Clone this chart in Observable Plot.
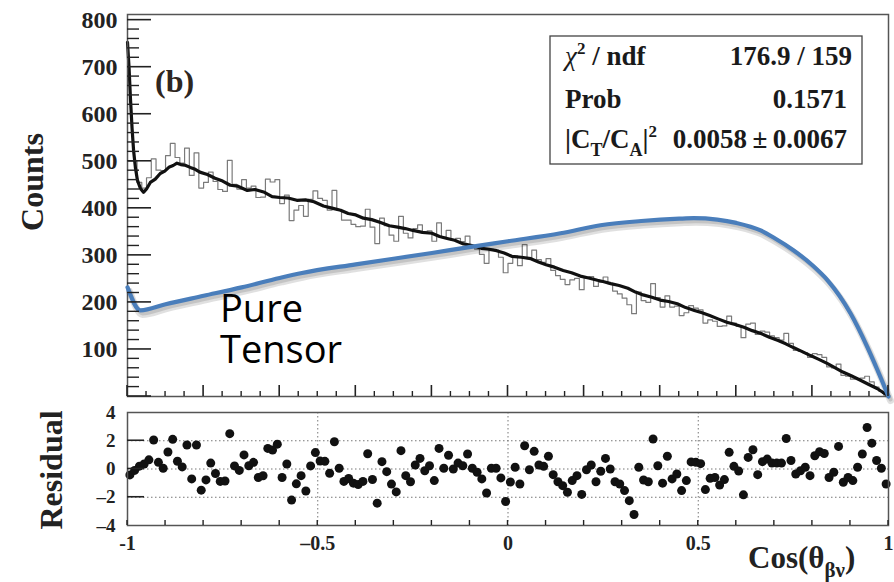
<!DOCTYPE html>
<html><head><meta charset="utf-8">
<script src="https://cdn.jsdelivr.net/npm/d3@7"></script>
<script src="https://cdn.jsdelivr.net/npm/@observablehq/plot@0.6"></script>
<style>
html,body{margin:0;padding:0;background:#fff;}
#wrap{position:relative;width:894px;height:582px;overflow:hidden;background:#fff;}
#wrap svg{position:absolute;left:0;overflow:visible;}
</style></head><body><div id="wrap"></div>
<script>
// ---- data ----
const residuals = [
 -0.42,-0.1,0.2,0.35,0.65,2.05,0.47,0.05,1.2,2.1,0.55,0.15,1.7,-0.7,1.7,-1.5,-0.77,0.42,-0.32,-0.88,
 -0.85,2.5,0.22,-0.1,1.0,0.23,0.47,-0.6,-0.48,1.46,1.34,1.76,-0.6,0.35,-2.2,-1.05,-0.47,-1.56,0.22,1.16,
 0.57,0.54,-0.3,1.93,0.05,-0.88,-0.67,-1.0,-1.1,-0.88,1.08,-0.74,-2.42,0.52,-0.19,-1.07,-1.62,1.3,-0.47,-0.9,
 0.28,0.75,-0.12,0.23,-0.82,1.46,0.05,0.97,0.0,0.42,0.23,1.06,0.05,-0.23,-0.7,-1.7,0.05,0.05,-0.63,-2.3,
 -0.92,0.12,-1.06,1.65,-0.05,1.25,0.28,0.19,0.9,-0.4,-0.9,-1.18,-1.65,-0.82,-0.47,-1.8,-0.05,0.28,-0.9,-0.16,
 0.75,0.0,-0.9,-1.06,-1.53,-2.24,-3.22,0.12,-0.78,-0.9,2.12,0.23,-1.0,0.9,-0.7,-0.35,-1.53,-0.82,0.5,0.47,
 0.38,-1.46,-0.66,-0.6,-1.13,-0.75,1.18,0.19,-0.14,-1.83,0.82,1.36,-0.4,0.52,0.7,0.42,0.42,0.42,2.16,0.6,
 -0.35,-0.12,0.12,-0.47,0.94,1.22,1.1,-0.6,-0.23,1.6,-0.94,-0.6,-0.82,0.12,1.06,2.94,1.83,0.6,0.05,-1.06
];
const counts = [
 500,500,455,443,465,505,481,480,512,538,508,496,528,470,518,443,455,477,457,440,
 436,502,451,441,461,443,447,423,424,462,456,461,410,428,374,396,406,383,419,437,
 421,417,396,438,396,375,375,366,361,362,398,360,325,379,363,343,330,383,347,337,
 357,365,347,352,330,369,339,353,332,336,329,341,321,313,302,283,313,311,296,263,
 283,299,278,323,293,311,291,285,293,268,257,249,238,248,251,227,252,255,234,243,
 254,240,224,218,209,195,176,222,204,200,240,210,190,214,190,192,172,178,193,188,
 184,156,163,160,149,150,171,156,149,125,154,156,132,139,137,129,125,120,134,113,
 98,96,93,83,91,89,83,63,61,69,45,43,37,38,39,43,31,20,11,3
];
const fitCurve = [
 [-1.0,753],[-0.996,700],[-0.992,630],[-0.988,570],[-0.984,523],[-0.979,485],[-0.974,460],[-0.966,442],
 [-0.958,434],[-0.95,441],[-0.94,455],[-0.927,462],[-0.914,474],[-0.902,479],[-0.89,488],[-0.88,491],
 [-0.87,496],[-0.86,493],[-0.85,492],[-0.835,487],[-0.822,483],[-0.81,477],[-0.79,472],[-0.77,464],
 [-0.75,458],[-0.73,449],[-0.71,447],[-0.685,438],[-0.665,440],[-0.64,434],[-0.62,425],[-0.6,423],
 [-0.578,422],[-0.555,417],[-0.532,418],[-0.51,414],[-0.485,405],[-0.46,400],[-0.44,396],[-0.42,389],
 [-0.4,386],[-0.38,379],[-0.358,376],[-0.335,370],[-0.312,363],[-0.29,360],[-0.27,357],[-0.25,353],
 [-0.225,349],[-0.2,347],[-0.18,340],[-0.16,336],[-0.14,332],[-0.12,325],[-0.095,321],[-0.07,315],
 [-0.05,313],[-0.03,310],[-0.01,305],[0.01,298],[0.035,296],[0.06,293],[0.08,286],[0.1,280],
 [0.122,275],[0.145,268],[0.167,263],[0.19,256],[0.212,252],[0.235,247],[0.252,244],[0.27,240],
 [0.292,236],[0.315,230],[0.335,222],[0.355,216],[0.378,211],[0.4,205],[0.422,202],[0.445,197],
 [0.467,189],[0.49,183],[0.51,178],[0.53,172],[0.552,165],[0.575,158],[0.597,153],[0.62,147],
 [0.642,140],[0.665,134],[0.687,126],[0.71,119],[0.73,112],[0.75,104],[0.772,96],[0.795,87],
 [0.817,79],[0.84,70],[0.86,61],[0.88,52],[0.902,44],[0.925,35],[0.947,26],[0.97,17],[0.985,9],[1.0,2]
];
const tensorCurve = [
 [-1,232],[-0.966,183],[-0.9,196],[-0.8,214],[-0.7,232],[-0.6,252],[-0.545,262],[-0.4,281],
 [-0.2,305],[-0.106,317],[0,330],[0.138,347],[0.243,364],[0.35,373],[0.45,378],[0.488,379],
 [0.55,376],[0.6,369],[0.664,353],[0.7,337],[0.75,311],[0.8,279],[0.84,247],[0.9,177],
 [0.945,104],[0.97,58],[1.0,0]
];
const countTicks = [100,200,300,400,500,600,700,800];
const countTickLabels = ["100","200","300","400","500","600","700","800"];
const resTicks = [4,2,0,-2,-4];
const resTickLabels = ["4","2","0","\u20132","\u20134"];
const xTicks = [-1,-0.5,0,0.5,1];
const xTickLabels = ["-1","\u20130.5","0","0.5","1"];

// ---- derived structures ----
const nBins = counts.length, binW = 2 / nBins;
const hist = counts.map((c, i) => ({x: -1 + i * binW, y: c}));
hist.push({x: 1, y: counts[nBins - 1]});
const resData = residuals.map((r, i) => ({x: -1 + (i + 0.5) * binW, r}));
const rng = (a, b, s) => d3.range(Math.round(a / s), Math.round(b / s) + 1).map(k => +(k * s).toFixed(4));
const majorY = rng(0, 800, 100);
const minorY = rng(0, 800, 20).filter(v => !majorY.includes(v));
const majorX = rng(-1, 1, 0.2);
const minorX = rng(-1, 1, 0.05).filter(v => !majorX.includes(v));
const resX = rng(-1, 1, 0.1);
const SERIF = "'Liberation Serif','Times New Roman',serif";
const LEFT = () => -1;
const ID = d => d;
const TICK = "#222";

const wrap = document.getElementById("wrap");

const topPlot = Plot.plot({
  width: 894, height: 400,
  marginLeft: 127, marginRight: 6, marginTop: 14, marginBottom: 4,
  x: {domain: [-1, 1], axis: null},
  y: {domain: [0, 812], axis: null},
  marks: [
    Plot.line(hist, {x: "x", y: "y", curve: "step-after", stroke: "#7a7a7a", strokeWidth: 1.2}),
    Plot.line(fitCurve, {x: d => d[0], y: d => d[1], stroke: "#111", strokeWidth: 3.2, strokeLinejoin: "round"}),
    Plot.frame({stroke: "#555", strokeWidth: 1.5}),
    Plot.text(countTicks, {x: LEFT, y: ID, text: (d, i) => countTickLabels[i], textAnchor: "end", dx: -10,
      fontSize: 24, fontWeight: "bold", fontFamily: SERIF, fill: "#222", ariaLabel: "ticklabel"}),
    Plot.line(tensorCurve, {x: d => d[0], y: d => d[1], stroke: "#000", strokeOpacity: 0.12, strokeWidth: 7,
      dx: 2, dy: 4, curve: "monotone-x", strokeLinejoin: "round"}),
    Plot.line(tensorCurve, {x: d => d[0], y: d => d[1], stroke: "#000", strokeOpacity: 0.12, strokeWidth: 4,
      dx: 2, dy: 3, curve: "monotone-x", strokeLinejoin: "round"}),
    Plot.line(tensorCurve, {x: d => d[0], y: d => d[1], stroke: "#4a7ebb", strokeWidth: 4.2, curve: "monotone-x",
      strokeLinejoin: "round"})
  ]
});
topPlot.style.top = "0px";
wrap.appendChild(topPlot);

const botPlot = Plot.plot({
  width: 894, height: 182,
  marginLeft: 127, marginRight: 6, marginTop: 12, marginBottom: 57,
  x: {domain: [-1, 1], axis: null},
  y: {domain: [-4, 4], axis: null},
  marks: [
    Plot.ruleY([-2, 0, 2], {y: ID, stroke: "#777", strokeWidth: 1, strokeDasharray: "1.5,2.5"}),
    Plot.ruleX([-0.5, 0, 0.5], {x: ID, stroke: "#777", strokeWidth: 1, strokeDasharray: "1.5,2.5"}),
    Plot.dot(resData, {x: "x", y: "r", r: 4.5, fill: "#111", stroke: "none"}),
    Plot.frame({stroke: "#555", strokeWidth: 1.5}),
    Plot.text(resTicks, {x: LEFT, y: ID, text: (d, i) => resTickLabels[i], textAnchor: "end", dx: -12,
      fontSize: 19, fontWeight: "bold", fontFamily: SERIF, fill: "#222", ariaLabel: "ticklabel"}),
    Plot.text(xTicks, {x: ID, y: () => -4, text: (d, i) => xTickLabels[i], lineAnchor: "top", dy: 10,
      fontSize: 20, fontWeight: "bold", fontFamily: SERIF, fill: "#222", ariaLabel: "ticklabel"})
  ]
});
botPlot.style.top = "400px";
wrap.appendChild(botPlot);

// stretch tick labels horizontally like the original rendering
wrap.querySelectorAll('g[aria-label="ticklabel"] text').forEach(t => {
  const L = t.getComputedTextLength();
  if (L > 0) { t.setAttribute("textLength", (L * 1.3).toFixed(1)); t.setAttribute("lengthAdjust", "spacingAndGlyphs"); }
});

// ---- overlay (topmost) ----
const ov = d3.select(wrap).append("svg")
  .attr("width", 894).attr("height", 582)
  .style("top", "0px").style("pointer-events", "none");

// inward tick marks, positioned with the plots' own scales
function scaleFn(plot, name, domain, range) {
  try { const s = plot.scale(name); if (s && s.apply) return v => s.apply(v); } catch (e) {}
  return d3.scaleLinear(domain, range);
}
const tk = ov.append("g").attr("stroke", TICK).attr("fill", "none");
function seg(x1, y1, x2, y2, w) {
  tk.append("line").attr("x1", x1).attr("y1", y1).attr("x2", x2).attr("y2", y2).attr("stroke-width", w);
}
{
  const sx = scaleFn(topPlot, "x", [-1, 1], [127, 888]);
  const sy = scaleFn(topPlot, "y", [0, 812], [396, 14]);
  const x0 = sx(-1), y0 = sy(0);
  minorY.forEach(v => seg(x0, sy(v), x0 + 12, sy(v), 1.4));
  majorY.forEach(v => seg(x0, sy(v), x0 + 24, sy(v), 1.6));
  minorX.forEach(v => seg(sx(v), y0, sx(v), y0 - 5, 1.4));
  majorX.forEach(v => seg(sx(v), y0, sx(v), y0 - 11, 1.6));
}
{
  const sx = scaleFn(botPlot, "x", [-1, 1], [127, 888]);
  const sy = scaleFn(botPlot, "y", [-4, 4], [125, 12]);
  const off = 400, x0 = sx(-1), y0 = sy(-4) + off;
  [-2, 0, 2].forEach(v => seg(x0, sy(v) + off, x0 + 17, sy(v) + off, 1.6));
  resX.forEach(v => seg(sx(v), y0, sx(v), y0 - 5, 1.4));
}

ov.append("text").attr("transform", "translate(43,182) rotate(-90)").attr("text-anchor", "middle")
  .attr("font-family", SERIF).attr("font-weight", "bold").attr("font-size", 32).attr("fill", "#222").text("Counts");
ov.append("text").attr("transform", "translate(62,470) rotate(-90)").attr("text-anchor", "middle")
  .attr("font-family", SERIF).attr("font-weight", "bold").attr("font-size", 32).attr("fill", "#222").text("Residual");

const xl = ov.append("text").attr("x", 748).attr("y", 568)
  .attr("font-family", SERIF).attr("font-weight", "bold").attr("font-size", 31).attr("fill", "#222");
xl.append("tspan").text("Cos(\u03b8");
xl.append("tspan").attr("font-size", 21).attr("dy", 9).text("\u03b2\u03bd");
xl.append("tspan").attr("font-size", 31).attr("dy", -9).text(")");

ov.append("text").attr("x", 155).attr("y", 92).attr("font-family", SERIF).attr("font-weight", "bold")
  .attr("font-size", 32).attr("fill", "#2e2620").text("(b)");

const pt = ov.append("text").attr("font-family", "'Open Sans', sans-serif").attr("font-size", 38).attr("fill", "#000");
pt.append("tspan").attr("x", 220).attr("y", 322).text("Pure");
pt.append("tspan").attr("x", 220).attr("y", 363).text("Tensor");

const sb = ov.append("g").attr("font-family", SERIF).attr("font-weight", "bold").attr("font-size", 27).attr("fill", "#1a1a1a");
sb.append("rect").attr("x", 550).attr("y", 36).attr("width", 312).attr("height", 128)
  .attr("fill", "#fff").attr("stroke", "#444").attr("stroke-width", 1.3);
const r1 = sb.append("text").attr("x", 565).attr("y", 65);
r1.append("tspan").attr("font-style", "italic").attr("font-weight", "normal").text("\u03c7");
r1.append("tspan").attr("font-size", 17).attr("dy", -11).text("2");
r1.append("tspan").attr("font-size", 27).attr("dy", 11).text(" / ndf");
sb.append("text").attr("x", 852).attr("y", 65).attr("text-anchor", "end").text("176.9 / 159");
sb.append("text").attr("x", 565).attr("y", 108).text("Prob");
sb.append("text").attr("x", 847).attr("y", 108).attr("text-anchor", "end").text("0.1571");
const r3 = sb.append("text").attr("x", 565).attr("y", 148);
r3.append("tspan").text("|C");
r3.append("tspan").attr("font-size", 18).attr("dy", 8).text("T");
r3.append("tspan").attr("font-size", 27).attr("dy", -8).text("/C");
r3.append("tspan").attr("font-size", 18).attr("dy", 8).text("A");
r3.append("tspan").attr("font-size", 27).attr("dy", -8).text("|");
r3.append("tspan").attr("font-size", 17).attr("dy", -11).text("2");
sb.append("text").attr("x", 847).attr("y", 148).attr("text-anchor", "end").text("0.0058\u2009\u00b1\u20090.0067");
</script></body></html>
